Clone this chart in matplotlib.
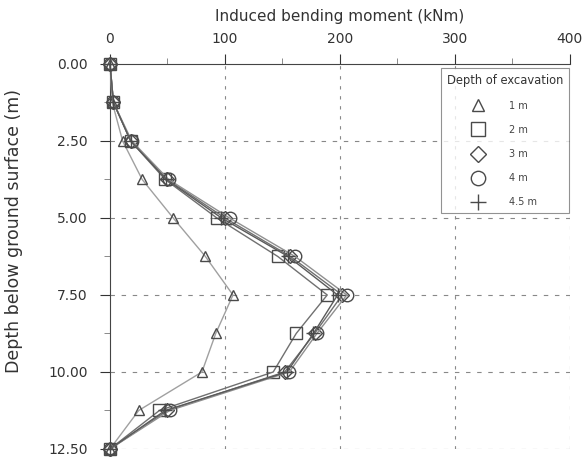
import matplotlib
matplotlib.use("Agg")
import matplotlib.pyplot as plt
from matplotlib.ticker import MultipleLocator, FormatStrFormatter

# Depths along the wall (m)
depth = [0.0, 1.25, 2.5, 3.75, 5.0, 6.25, 7.5, 8.75, 10.0, 11.25, 12.5]

# Induced bending moment (kNm) for each depth of excavation
moment_1m = [0, 2, 11, 28, 55, 83, 107, 92, 80, 25, 0]
moment_2m = [0, 3, 18, 48, 93, 146, 189, 162, 142, 43, 0]
moment_3m = [0, 3, 18, 50, 100, 157, 202, 178, 152, 50, 0]
moment_4m = [0, 3, 19, 51, 104, 161, 206, 180, 156, 52, 0]
moment_45m = [0, 3, 18, 49, 97, 155, 198, 177, 154, 48, 0]

labels = ["1 m", "2 m", "3 m", "4 m", "4.5 m"]
x_ticks = [0, 100, 200, 300, 400]
y_ticks = [0.0, 2.5, 5.0, 7.5, 10.0, 12.5]

fig = plt.figure(figsize=(5.85, 4.58), dpi=100)
ax = fig.add_axes([0.188, 0.0197, 0.786, 0.8406])

series = [
    (moment_1m, "^", "#a0a0a0", 7.5),
    (moment_2m, "s", "#707070", 9),
    (moment_3m, "D", "#707070", 7),
    (moment_4m, "o", "#909090", 9),
    (moment_45m, "+", "#5a5a5a", 10),
]
for (vals, mk, lc, ms), lab in zip(series, labels):
    ax.plot(vals, depth, color=lc, lw=1.0, marker=mk, markersize=ms,
            markerfacecolor="none", markeredgecolor="#4a4a4a",
            markeredgewidth=1.0, label=lab, clip_on=False, zorder=3)

ax.set_xlim(0, 400)
ax.set_ylim(12.5, 0)
ax.xaxis.tick_top()
ax.xaxis.set_label_position("top")
ax.set_xticks(x_ticks)
ax.set_yticks(y_ticks)
ax.yaxis.set_minor_locator(MultipleLocator(1.25))
ax.xaxis.set_minor_locator(MultipleLocator(50))
ax.yaxis.set_major_formatter(FormatStrFormatter("%.2f"))
ax.tick_params(axis="both", labelsize=10, colors="#333333", length=7, width=0.8)
ax.tick_params(axis="both", which="minor", length=4, width=0.6, colors="#777777")
ax.tick_params(axis="y", pad=9)
ax.tick_params(axis="x", pad=6)

ax.set_xlabel("Induced bending moment (kNm)", fontsize=11, color="#333333", labelpad=8)
ax.set_ylabel("Depth below ground surface (m)", fontsize=12.5, color="#333333",
              family="DejaVu Sans Condensed")
ax.yaxis.set_label_coords(-0.19, 0.565)

for side in ["right", "bottom"]:
    ax.spines[side].set_visible(False)
ax.spines["top"].set_color("#444444")
ax.spines["left"].set_color("#444444")

for xv in x_ticks[1:]:
    ax.axvline(xv, color="#888888", lw=0.8, ls=(0, (3, 6)), zorder=1)
for yv in y_ticks[1:]:
    ax.axhline(yv, color="#888888", lw=0.8, ls=(0, (4, 6)), zorder=1)

leg = ax.legend(title="Depth of excavation", loc="upper right",
                bbox_to_anchor=(0.998, 0.99), fontsize=7, title_fontsize=8.3,
                frameon=True, fancybox=False, edgecolor="#777777",
                handlelength=1.2, handletextpad=2.6, labelspacing=1.45,
                borderpad=0.6, borderaxespad=0.0, markerscale=1.15)
leg.get_frame().set_linewidth(0.8)
for line in leg.get_lines():
    line.set_linestyle("none")
for t in leg.get_texts():
    t.set_color("#444444")
leg.get_title().set_color("#333333")

fig.savefig("out.png", dpi=100, facecolor="white")
